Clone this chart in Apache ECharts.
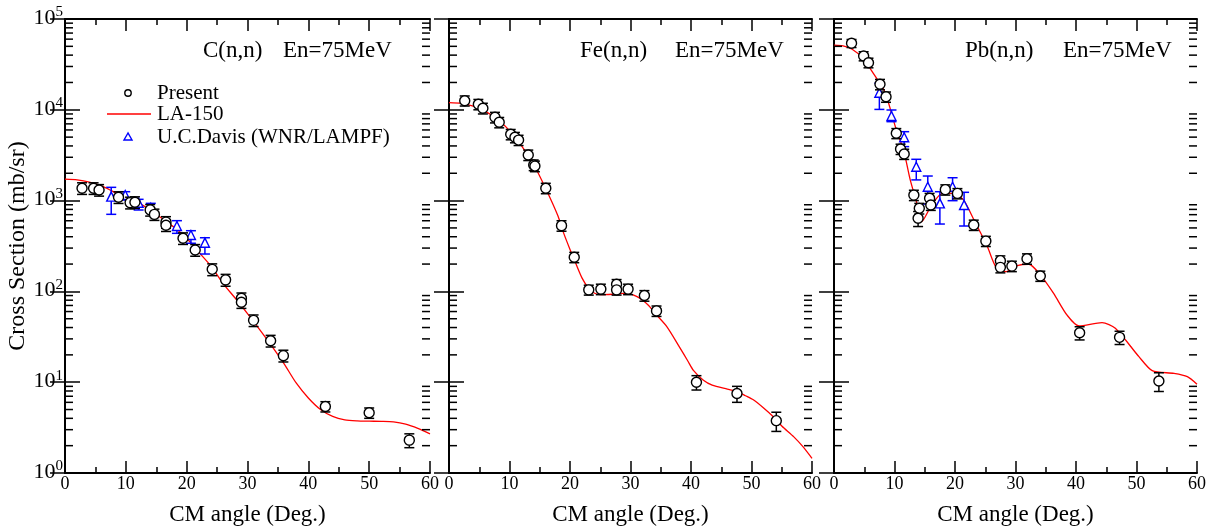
<!DOCTYPE html>
<html>
<head>
<meta charset="utf-8">
<title>Neutron elastic scattering at 75 MeV</title>
<script src="https://cdn.jsdelivr.net/npm/echarts@6/dist/echarts.min.js"></script>
<style>
  html, body { margin: 0; padding: 0; background: #fff; }
  #chart { width: 1219px; height: 532px; }
</style>
</head>
<body>
<div id="chart"></div>
<script>
// ---- data: [angle (deg), cross section (mb/sr), error] ----
const cPresent = [
  [2.8, 1370, 200], [4.7, 1370, 200], [5.6, 1310, 190], [8.8, 1090, 160], [10.7, 950, 140],
  [11.5, 960, 140], [14.0, 790, 115], [14.7, 705, 100], [16.6, 580, 85], [16.6, 535, 78],
  [19.4, 385, 56], [21.4, 286, 42], [24.2, 175, 26], [26.4, 134, 20], [29.0, 84, 12],
  [29.0, 76, 11], [31.0, 48, 7], [33.8, 28.6, 4.2], [35.9, 19.6, 2.9], [42.8, 5.4, 0.7],
  [50.0, 4.6, 0.6], [56.6, 2.3, 0.4]
];
// [angle, value, low, high]
const cDavis = [
  [7.6, 1105, 706, 1400], [9.9, 1153, 1016, 1253], [12.1, 948, 788, 1033], [14.1, 835, 755, 933],
  [18.4, 525, 436, 601], [20.7, 418, 339, 466], [23.0, 344, 258, 390]
];
const cLA150 = [
  [0, 1720], [2, 1690], [4, 1600], [6, 1450], [8, 1250], [10, 1080], [12, 950], [14, 790],
  [16, 630], [18, 505], [20, 385], [22, 270], [24, 190], [26, 122], [28, 84], [30, 57],
  [32, 38], [34, 25], [36, 16], [38, 9.8], [40, 6.7], [42, 5.0], [44, 4.2], [46, 3.85],
  [48, 3.75], [50, 3.72], [52, 3.7], [54, 3.65], [56, 3.45], [58, 3.1], [60, 2.7]
];

const fePresent = [
  [2.6, 12600, 1600], [4.85, 11500, 1500], [5.6, 10400, 1400], [7.6, 8270, 1100], [8.3, 7280, 950],
  [10.2, 5370, 700], [10.9, 4980, 650], [11.5, 4640, 600], [13.1, 3180, 420], [14.0, 2470, 330],
  [14.2, 2400, 320], [16.0, 1370, 180], [18.6, 530, 70], [20.7, 238, 31], [23.1, 104, 13],
  [25.1, 106, 14], [27.7, 120, 15], [27.7, 104, 13], [29.6, 106, 14], [32.3, 90, 12],
  [34.3, 61, 8], [40.9, 10.0, 1.8], [47.6, 7.5, 1.5], [54.1, 3.77, 0.9]
];
const feLA150 = [
  [0, 12000], [2, 11800], [4, 11000], [6, 9600], [8, 7900], [10, 5900], [11, 4900], [12, 4000],
  [14, 2500], [16, 1350], [18, 680], [19, 430], [20, 290], [21, 200], [22, 140], [23, 110],
  [24, 96], [25, 92], [27, 93], [29, 95], [30, 94], [31, 88], [32, 80], [33, 70], [34, 58],
  [36, 41], [38, 25], [39.5, 17], [40.4, 13.5], [42, 10.6], [43.5, 9.3], [46, 8.4],
  [47.6, 7.9], [49, 7.1], [50.3, 6.4], [52, 5.2], [53.6, 4.17], [55, 3.3], [57, 2.5],
  [58.5, 1.95], [60, 1.45]
];

const pbPresent = [
  [2.9, 54000, 5500], [4.9, 39100, 4500], [5.7, 33000, 4000], [7.6, 19100, 2500], [8.6, 13900, 1800],
  [10.3, 5510, 700], [11.0, 3700, 480], [11.6, 3260, 420], [13.2, 1150, 150], [14.1, 822, 110],
  [13.9, 638, 120], [15.8, 1060, 140], [16.0, 895, 115], [18.4, 1320, 170], [20.4, 1200, 155],
  [23.1, 539, 70], [25.1, 358, 46], [27.5, 218, 28], [27.5, 184, 24], [29.4, 190, 25],
  [31.9, 229, 30], [34.1, 148, 19], [40.6, 35, 5.8], [47.2, 31.2, 5.2], [53.7, 10.3, 2.4]
];
const pbDavis = [
  [7.5, 15400, 10100, 19600], [9.5, 8550, 7400, 9950], [11.6, 4980, 3930, 5740],
  [13.6, 2360, 1690, 2850], [15.5, 1420, 917, 1865], [17.5, 933, 552, 1253],
  [19.6, 1420, 998, 1786], [21.5, 895, 525, 1234]
];
const pbLA150 = [
  [0, 51500], [1.5, 50500], [3, 46500], [4.8, 36900], [6.5, 25200], [8.4, 15800], [10.3, 6000],
  [11.5, 3600], [12.6, 1690], [13.7, 933], [14.5, 586], [16, 857], [17.9, 1200], [19.8, 1200],
  [21.4, 1016], [23.1, 620], [25.3, 318], [26.8, 184], [28.5, 165], [30.3, 192], [32.2, 199],
  [34.1, 152], [36.3, 95], [38.5, 55], [40.5, 41.6], [44.3, 45.2], [46.5, 39.3], [50.4, 19.1],
  [52.6, 13.4], [56.2, 12.5], [58.4, 11.5], [60, 9.5]
];

const panelTitles = ['C(n,n)', 'Fe(n,n)', 'Pb(n,n)'];
const energyLabel = 'En=75MeV';
const legendNames = ['Present', 'LA-150', 'U.C.Davis (WNR/LAMPF)'];
const xAxisTitle = 'CM angle (Deg.)';
const yAxisTitle = 'Cross Section (mb/sr)';

const panels = [
  { present: cPresent, davis: cDavis, calc: cLA150 },
  { present: fePresent, davis: null, calc: feLA150 },
  { present: pbPresent, davis: pbDavis, calc: pbLA150 }
];

// ---- layout ----
const SERIF = 'Liberation Serif, Times New Roman, serif';
const grids = [
  { left: 65, top: 19, width: 365, height: 454 },
  { left: 449, top: 19, width: 363, height: 454 },
  { left: 834, top: 19, width: 363, height: 454 }
];
const Y_MIN = 1, Y_MAX = 100000;

// log-axis minor tick positions (2..9 within each decade)
const minorTickValues = [];
for (let d = Y_MIN; d < Y_MAX; d *= 10) {
  for (let m = 2; m <= 9; m++) minorTickValues.push([0, m * d]);
}

const axisLine = { show: true, lineStyle: { color: '#000', width: 2 } };

const xAxes = [], yAxes = [], series = [];
grids.forEach((g, i) => {
  // bottom angle axis
  xAxes.push({
    type: 'value', gridIndex: i, min: 0, max: 60, interval: 10, position: 'bottom',
    axisLine,
    axisTick: { inside: true, length: 12, lineStyle: { color: '#000', width: 1.5 } },
    minorTick: { show: true, splitNumber: 2, length: 6, lineStyle: { color: '#000', width: 1.5 } },
    splitLine: { show: false },
    axisLabel: { color: '#000', fontFamily: SERIF, fontSize: 18, margin: 2 },
    name: xAxisTitle, nameLocation: 'middle', nameGap: 30,
    nameTextStyle: { color: '#000', fontFamily: SERIF, fontSize: 23 }
  });
  // left cross-section axis
  yAxes.push({
    type: 'log', logBase: 10, gridIndex: i, min: Y_MIN, max: Y_MAX, position: 'left',
    axisLine,
    axisTick: { inside: true, length: 15, lineStyle: { color: '#000', width: 1.5 } },
    splitLine: { show: false },
    axisLabel: {
      show: i === 0, margin: 2, padding: [0, 0, 4, 0],
      formatter: v => '{b|10}{s|' + Math.round(Math.log10(v)) + '}',
      rich: {
        b: { fontFamily: SERIF, fontSize: 22, color: '#000', lineHeight: 24, verticalAlign: 'bottom' },
        s: { fontFamily: SERIF, fontSize: 15, color: '#000', lineHeight: 15, verticalAlign: 'top' }
      }
    },
    name: i === 0 ? yAxisTitle : '', nameLocation: 'middle', nameGap: 29, nameRotate: 90,
    nameTextStyle: { color: '#000', fontFamily: SERIF, fontSize: 24 }
  });
});
grids.forEach((g, i) => {
  // mirrored top and right frame axes
  xAxes.push({
    type: 'value', gridIndex: i, min: 0, max: 60, interval: 10, position: 'top',
    axisLine,
    axisTick: { inside: true, length: 12, lineStyle: { color: '#000', width: 1.5 } },
    minorTick: { show: true, splitNumber: 2, length: 6, lineStyle: { color: '#000', width: 1.5 } },
    splitLine: { show: false }, axisLabel: { show: false }
  });
  yAxes.push({
    type: 'log', logBase: 10, gridIndex: i, min: Y_MIN, max: Y_MAX, position: 'right',
    axisLine,
    axisTick: { inside: true, length: 15, lineStyle: { color: '#000', width: 1.5 } },
    splitLine: { show: false }, axisLabel: { show: false }
  });
});

function minorTickRender(params, api) {
  const v = api.value(1);
  const pl = api.coord([0, v]);
  const pr = api.coord([60, v]);
  const st = { stroke: '#000', lineWidth: 1.5 };
  return {
    type: 'group', children: [
      { type: 'line', shape: { x1: pl[0], y1: pl[1], x2: pl[0] + 8, y2: pl[1] }, style: st },
      { type: 'line', shape: { x1: pr[0], y1: pr[1], x2: pr[0] - 8, y2: pr[1] }, style: st }
    ]
  };
}

function errorBarRender(color, half) {
  return function (params, api) {
    const x = api.value(0);
    const lo = api.coord([x, api.value(1)]);
    const hi = api.coord([x, api.value(2)]);
    const st = { stroke: color, lineWidth: 1.5 };
    return {
      type: 'group', children: [
        { type: 'line', shape: { x1: lo[0], y1: lo[1], x2: hi[0], y2: hi[1] }, style: st },
        { type: 'line', shape: { x1: lo[0] - half, y1: lo[1], x2: lo[0] + half, y2: lo[1] }, style: st },
        { type: 'line', shape: { x1: hi[0] - half, y1: hi[1], x2: hi[0] + half, y2: hi[1] }, style: st }
      ]
    };
  };
}

panels.forEach((p, i) => {
  series.push({
    type: 'custom', xAxisIndex: i, yAxisIndex: i, data: minorTickValues,
    renderItem: minorTickRender, clip: false, silent: true, z: 10
  });
  series.push({
    name: 'LA-150', type: 'line', xAxisIndex: i, yAxisIndex: i, data: p.calc,
    symbol: 'none', smooth: 0.25, lineStyle: { color: '#ff0000', width: 1.3 }, z: 2
  });
  if (p.davis) {
    series.push({
      type: 'custom', xAxisIndex: i, yAxisIndex: i,
      data: p.davis.map(d => [d[0], d[2], d[3]]), encode: { x: 0, y: [1, 2] },
      renderItem: errorBarRender('#0000ff', 5), z: 3
    });
    series.push({
      name: 'U.C.Davis (WNR/LAMPF)', type: 'scatter', xAxisIndex: i, yAxisIndex: i,
      data: p.davis.map(d => [d[0], d[1]]), symbol: 'triangle', symbolSize: 9,
      itemStyle: { color: '#fff', borderColor: '#0000ff', borderWidth: 1.4, opacity: 1 }, z: 4
    });
  }
  series.push({
    type: 'custom', xAxisIndex: i, yAxisIndex: i,
    data: p.present.map(d => [d[0], d[1] - d[2], d[1] + d[2]]), encode: { x: 0, y: [1, 2] },
    renderItem: errorBarRender('#000', 5), z: 5
  });
  series.push({
    name: 'Present', type: 'scatter', xAxisIndex: i, yAxisIndex: i,
    data: p.present.map(d => [d[0], d[1]]), symbol: 'circle', symbolSize: 10,
    itemStyle: { color: '#fff', borderColor: '#000', borderWidth: 1.4, opacity: 1 }, z: 6
  });
});

// panel titles and legend
const titleFont = { fontFamily: SERIF, fontSize: 23, fill: '#000' };
const titleSpots = [[203, 283], [580, 675], [965, 1063]];
const graphics = [];
titleSpots.forEach((s, i) => {
  graphics.push({ type: 'text', left: s[0], top: 39, style: Object.assign({ text: panelTitles[i] }, titleFont) });
  graphics.push({ type: 'text', left: s[1], top: 39, style: Object.assign({ text: energyLabel }, titleFont) });
});
const legendFont = { fontFamily: SERIF, fontSize: 21, fill: '#000' };
graphics.push(
  { type: 'circle', shape: { cx: 128, cy: 93, r: 3.2 }, style: { fill: '#fff', stroke: '#000', lineWidth: 1.4 } },
  { type: 'line', shape: { x1: 107, y1: 114, x2: 151, y2: 114 }, style: { stroke: '#ff0000', lineWidth: 1.3 } },
  { type: 'polygon', shape: { points: [[128, 133], [124, 140], [132, 140]] }, style: { fill: '#fff', stroke: '#0000ff', lineWidth: 1.4 } },
  { type: 'text', left: 157, top: 83, style: Object.assign({ text: legendNames[0] }, legendFont) },
  { type: 'text', left: 157, top: 104, style: Object.assign({ text: legendNames[1] }, legendFont) },
  { type: 'text', left: 157, top: 127, style: Object.assign({ text: legendNames[2] }, legendFont) }
);

const chart = echarts.init(document.getElementById('chart'), null, { renderer: 'canvas' });
chart.setOption({
  backgroundColor: '#fff',
  animation: false,
  grid: grids,
  xAxis: xAxes,
  yAxis: yAxes,
  series: series,
  graphic: graphics
});
</script>
</body>
</html>
